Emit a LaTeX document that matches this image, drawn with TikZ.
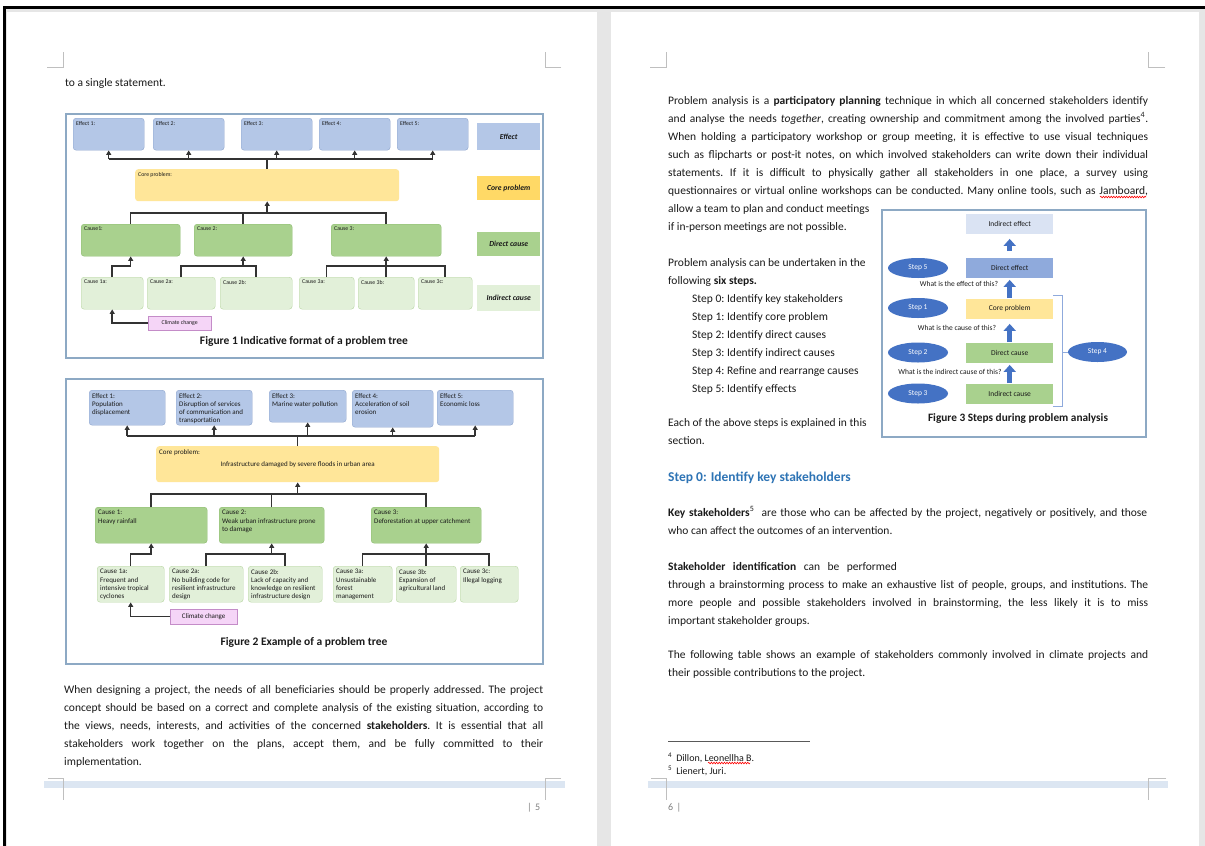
\documentclass[tikz,border=0pt]{standalone}
\usepackage{fontspec}
\setmainfont{Carlito}
\usetikzlibrary{arrows.meta,shapes.geometric,decorations.pathmorphing}
\definecolor{efffill}{HTML}{B4C7E7}
\definecolor{effline}{HTML}{8FA6CF}
\definecolor{corefill}{HTML}{FFE699}
\definecolor{dirfill}{HTML}{A9D18E}
\definecolor{dirline}{HTML}{8DBB70}
\definecolor{indfill}{HTML}{E2F0D9}
\definecolor{indline}{HTML}{B8D6A3}
\definecolor{ccfill}{HTML}{F5D5F7}
\definecolor{ccline}{HTML}{C48CC8}
\definecolor{legcore}{HTML}{FFD966}
\definecolor{frameline}{HTML}{8DA9C4}
\definecolor{stepblue}{HTML}{4472C4}
\definecolor{ieff}{HTML}{DAE3F3}
\definecolor{deff}{HTML}{8FAADC}
\definecolor{headblue}{HTML}{2E74B5}
\definecolor{cropgray}{HTML}{BFBFBF}
\definecolor{footband}{HTML}{DCE6F2}
\definecolor{gapgray}{HTML}{E6E6E6}
\definecolor{bodytext}{HTML}{1A1A1A}
\definecolor{linedark}{HTML}{333333}
% font sizes (1pt = 1px of the screenshot)
\newcommand{\bodyfont}{\fontsize{11.5}{18}\selectfont}
\newcommand{\figa}{\fontsize{5.8}{7}\selectfont}
\newcommand{\figb}{\fontsize{7}{8.3}\selectfont}
\newcommand{\legfont}{\fontsize{7.7}{9}\selectfont\bfseries\itshape}
\newcommand{\capfont}{\fontsize{11.5}{14}\selectfont\bfseries}
\newcommand{\stepfont}{\fontsize{7.5}{9}\selectfont}
\newcommand{\parblock}[2]{\vtop{\hsize=#1\parindent=0pt\tolerance=9999\hyphenpenalty=10000\frenchspacing\bodyfont #2}}
\begin{document}
\begin{tikzpicture}[x=1pt,y=-1pt,
    tline/.style={draw=linedark,line width=1.5},
    tarrow/.style={tline,-{Triangle[width=5pt,length=4.5pt]}},
    rbox/.style={rounded corners=3,anchor=north west,inner sep=0},
    effbox/.style={rbox,draw=effline,fill=efffill},
    corebox/.style={rbox,fill=corefill},
    dirbox/.style={rbox,draw=dirline,fill=dirfill},
    indbox/.style={rbox,draw=indline,fill=indfill},
    climbox/.style={anchor=north west,inner sep=0,draw=ccline,fill=ccfill,text=bodytext},
    legbox/.style={anchor=north west,inner sep=0,minimum width=63,font=\legfont,text=bodytext},
    tla/.style={anchor=north west,align=left,inner sep=3,font=\figa,text=bodytext},
    tlb/.style={tla,font=\figb},
    figframe/.style={draw=frameline,line width=1.2},
    figcap/.style={font=\capfont,text=bodytext},
    bodytxt/.style={anchor=base west,inner sep=0,text=bodytext},
    fbox/.style={anchor=north west,minimum width=87,minimum height=19.5,inner sep=0,font=\stepfont,text=bodytext},
    stepell/.style={ellipse,fill=stepblue,text=white,minimum width=60,minimum height=20,inner sep=0,font=\stepfont},
    barrow/.style={draw=stepblue,line width=5,-{Triangle[width=12pt,length=7pt]}},
    brk/.style={draw=deff,line width=1},
    crop/.style={draw=cropgray,line width=0.8},
    squig/.style={draw=red,line width=0.6,decorate,decoration={snake,amplitude=0.8,segment length=2.6}},
    pnum/.style={anchor=base west,inner sep=0,text=gray,font=\fontsize{10}{12}\selectfont}]
    \useasboundingbox(0,0)rectangle(1205,846);
    % window and pages
    \fill[white](0,0)rectangle(1205,846);
    \fill[gapgray](5,8)rectangle(1205,846);
    \fill[white](7,12)rectangle(597,846);
    \fill[white](611,12)rectangle(1199,846);
    \fill[black](3,6)rectangle(1205,8.5);
    \fill[black](3,6)rectangle(5.5,846);
    % crop marks and footer bands
    \draw[crop](47,67)-|(63,52);
    \draw[crop](561,67)-|(545,52);
    \draw[crop](650,67)-|(666,52);
    \draw[crop](1165,67)-|(1148,52);
    \fill[footband](44,781)rectangle(565,788);
    \fill[footband](648,781)rectangle(1168,788);
    \draw[crop](48,778)-|(63,800);
    \draw[crop](561,778)-|(545,800);
    \draw[crop](651,778)-|(666,800);
    \draw[crop](1166,778)-|(1148,800);
    \node[pnum](pn5)at(527,810){|\,\,5};
    \node[pnum](pn6)at(668,810){6\,\,|};
    % left page text
    \node[bodytxt,font=\bodyfont](t0)at(65,86){to a single statement.};
    \node[bodytxt](t1)at(64,693){\parblock{479pt}{When designing a project, the needs of all beneficiaries should be properly addressed. The project\linebreak
        concept should be based on a correct and complete analysis of the existing situation, according to\linebreak
        the views, needs, interests, and activities of the concerned \textbf{stakeholders}. It is essential that all\linebreak
        stakeholders work together on the plans, accept them, and be fully committed to their\linebreak
        implementation.}};
    % figure 1
    \draw[figframe](66,114)rectangle(543,358);
    \node[effbox,minimum width=71,minimum height=32,label={[tla]north west:{Effect 1:}}](e1)at(73,118){};
    \node[effbox,minimum width=71,minimum height=32,label={[tla]north west:{Effect 2:}}](e2)at(153,118){};
    \node[effbox,minimum width=71,minimum height=32,label={[tla]north west:{Effect 3:}}](e3)at(241,118){};
    \node[effbox,minimum width=71,minimum height=32,label={[tla]north west:{Effect 4:}}](e4)at(319,118){};
    \node[effbox,minimum width=71,minimum height=32,label={[tla]north west:{Effect 5:}}](e5)at(397,118){};
    \node[corebox,minimum width=264,minimum height=32,label={[tla]north west:{Core problem:}}](cp)at(135,169){};
    \node[dirbox,minimum width=99,minimum height=32,label={[tla]north west:{Cause1:}}](c1)at(81,224){};
    \node[dirbox,minimum width=98,minimum height=32,label={[tla]north west:{Cause 2:}}](c2)at(194,224){};
    \node[dirbox,minimum width=110,minimum height=32,label={[tla]north west:{Cause 3:}}](c3)at(331,224){};
    \node[indbox,minimum width=62,minimum height=32,label={[tla]north west:{Cause 1a:}}](c1a)at(81,277){};
    \node[indbox,minimum width=68,minimum height=32,label={[tla]north west:{Cause 2a:}}](c2a)at(147,277){};
    \node[indbox,minimum width=72,minimum height=32,label={[tla]north west:{Cause 2b:}}](c2b)at(220,277){};
    \node[indbox,minimum width=55,minimum height=32,label={[tla]north west:{Cause 3a:}}](c3a)at(299,277){};
    \node[indbox,minimum width=56,minimum height=32,label={[tla]north west:{Cause 3b:}}](c3b)at(358,277){};
    \node[indbox,minimum width=54,minimum height=32,label={[tla]north west:{Cause 3c:}}](c3c)at(418,277){};
    \node[climbox,minimum width=63,minimum height=14,font=\figa](cc)at(148,316){Climate change};
    \node[legbox,fill=efffill,minimum height=27](leff)at(477,123){Effect};
    \node[legbox,fill=legcore,minimum height=24](lcore)at(477,176){Core problem};
    \node[legbox,fill=dirfill,minimum height=24](ldir)at(477,232){Direct cause};
    \node[legbox,fill=indfill,minimum height=26](lind)at(477,285){Indirect cause};
    \node[figcap](cap1)at(304,341){Figure 1 Indicative format of a problem tree};
    \coordinate(eb)at(0,159);
    \coordinate(cb)at(0,213);
    \coordinate(ab)at(0,266);
    \draw[tline](e1.south|-eb)--(e5.south|-eb);
    \foreach \n in {e1,e2,e3,e4,e5}\draw[tarrow](\n.south|-eb)--(\n.south);
    \draw[tline](cp.north)--(cp.north|-eb);
    \draw[tline](c1.north)|-(c3.north|-cb)--(c3.north);
    \draw[tline](c2.north)--(c2.north|-cb);
    \draw[tarrow](cp.south|-cb)--(cp.south);
    \draw[tarrow](c1a.north)|-(c1.south|-ab)--(c1.south);
    \draw[tline](c2a.north)|-(c2b.north|-ab)--(c2b.north);
    \draw[tarrow](c2.south|-ab)--(c2.south);
    \draw[tline](c3a.north)|-(c3c.north|-ab)--(c3c.north);
    \draw[tarrow](c3b.north)--(c3.south);
    \draw[tarrow](cc.west)-|(c1a.south);
    % figure 2
    \draw[figframe](66,379)rectangle(543,664);
    \node[effbox,minimum width=76,minimum height=35,label={[tlb]north west:{Effect 1:\\Population\\displacement}}](E1)at(89,390){};
    \node[effbox,minimum width=76,minimum height=35,label={[tlb]north west:{Effect 2:\\Disruption of services\\of communication and\\transportation}}](E2)at(176,390){};
    \node[effbox,minimum width=77,minimum height=32,label={[tlb]north west:{Effect 3:\\Marine water pollution}}](E3)at(269,390){};
    \node[effbox,minimum width=81,minimum height=37,label={[tlb]north west:{Effect 4:\\Acceleration of soil\\erosion}}](E4)at(352,390){};
    \node[effbox,minimum width=76,minimum height=35,label={[tlb]north west:{Effect 5:\\Economic loss}}](E5)at(437,390){};
    \node[corebox,minimum width=283,minimum height=36,font=\figb,text=bodytext,label={[tlb]north west:{Core problem:}}](CP)at(156,446){Infrastructure damaged by severe floods in urban area};
    \node[dirbox,minimum width=112,minimum height=36,label={[tlb]north west:{Cause 1:\\Heavy rainfall}}](C1)at(95,507){};
    \node[dirbox,minimum width=105,minimum height=36,label={[tlb]north west:{Cause 2:\\Weak urban infrastructure prone\\to damage}}](C2)at(219,507){};
    \node[dirbox,minimum width=110,minimum height=36,label={[tlb]north west:{Cause 3:\\Deforestation at upper catchment}}](C3)at(371,507){};
    \node[indbox,minimum width=67,minimum height=36,label={[tlb]north west:{Cause 1a:\\Frequent and\\intensive tropical\\cyclones}}](C1a)at(97,566){};
    \node[indbox,minimum width=74,minimum height=36,label={[tlb]north west:{Cause 2a:\\No building code for\\resilient infrastructure\\design}}](C2a)at(169,566){};
    \node[indbox,minimum width=74,minimum height=36,label={[tlb]north west:{Cause 2b:\\Lack of capacity and\\knowledge on resilient\\infrastructure design}}](C2b)at(248,566){};
    \node[indbox,minimum width=59,minimum height=36,label={[tlb]north west:{Cause 3a:\\Unsustainable\\forest\\management}}](C3a)at(333,566){};
    \node[indbox,minimum width=60,minimum height=36,label={[tlb]north west:{Cause 3b:\\Expansion of\\agricultural land}}](C3b)at(396,566){};
    \node[indbox,minimum width=58,minimum height=36,label={[tlb]north west:{Cause 3c:\\Illegal logging}}](C3c)at(460,566){};
    \node[climbox,minimum width=67,minimum height=15,font=\figb](CC)at(170,609){Climate change};
    \node[figcap](cap2)at(304,642){Figure 2 Example of a problem tree};
    \coordinate(EB)at(0,436);
    \coordinate(CB)at(0,494);
    \coordinate(AB)at(0,554);
    \draw[tline](E1.south|-EB)--(E5.south|-EB);
    \foreach \n in {E1,E2,E3,E4,E5}\draw[tarrow](\n.south|-EB)--(\n.south);
    \draw[tline](CP.north)--(CP.north|-EB);
    \draw[tline](C1.north)|-(C3.north|-CB)--(C3.north);
    \draw[tline](C2.north)--(C2.north|-CB);
    \draw[tarrow](CP.south|-CB)--(CP.south);
    \draw[tarrow](C1a.north)|-(C1.south|-AB)--(C1.south);
    \draw[tline](C2a.north)|-(C2b.north|-AB)--(C2b.north);
    \draw[tarrow](C2.south|-AB)--(C2.south);
    \draw[tline](C3a.north)|-(C3c.north|-AB)--(C3c.north);
    \draw[tarrow](C3b.north)--(C3.south);
    \draw[tarrow](CC.west)-|(C1a.south);
    % right page text
    \node[bodytxt](p1)at(668,104){\parblock{480pt}{Problem analysis is a \textbf{participatory planning} technique in which all concerned stakeholders identify\linebreak
        and analyse the needs \textit{together}, creating ownership and commitment among the involved parties\textsuperscript{4}.\linebreak
        When holding a participatory workshop or group meeting, it is effective to use visual techniques\linebreak
        such as flipcharts or post-it notes, on which involved stakeholders can write down their individual\linebreak
        statements. If it is difficult to physically gather all stakeholders in one place, a survey using\linebreak
        questionnaires or virtual online workshops can be conducted. Many online tools, such as Jamboard,\linebreak
        allow a team to plan and conduct meetings\\
        if in-person meetings are not possible.}};
    \draw[squig](1100,197)--(1146,197);
    \node[bodytxt](p2)at(668,266){\parblock{215pt}{Problem analysis can be undertaken in the\\
        following \textbf{six steps.}\\
        \hspace*{24pt}Step 0: Identify key stakeholders\\
        \hspace*{24pt}Step 1: Identify core problem\\
        \hspace*{24pt}Step 2: Identify direct causes\\
        \hspace*{24pt}Step 3: Identify indirect causes\\
        \hspace*{24pt}Step 4: Refine and rearrange causes\\
        \hspace*{24pt}Step 5: Identify effects}};
    \node[bodytxt](p3)at(668,426){\parblock{215pt}{Each of the above steps is explained in this\\ section.}};
    \node[bodytxt,text=headblue,font=\fontsize{13.5}{16}\selectfont\bfseries](h0)at(668,481){Step 0: Identify key stakeholders};
    \node[bodytxt](p4)at(668,516){\parblock{479pt}{\textbf{Key stakeholders}\textsuperscript{5}\ \ are those who can be affected by the project, negatively or positively, and those\linebreak
        who can affect the outcomes of an intervention.}};
    \node[bodytxt](p5)at(668,570){\parblock{480pt}{\textbf{Stakeholder}\hspace{7.5pt}\textbf{identification}\hspace{7.5pt}can\hspace{7.5pt}be\hspace{7.5pt}performed\\
        through a brainstorming process to make an exhaustive list of people, groups, and institutions. The\linebreak
        more people and possible stakeholders involved in brainstorming, the less likely it is to miss\linebreak
        important stakeholder groups.}};
    \node[bodytxt](p6)at(668,658){\parblock{480pt}{The following table shows an example of stakeholders commonly involved in climate projects and\linebreak
        their possible contributions to the project.}};
    \draw[draw=black!65,line width=0.8](668,741)--(810,741);
    \node[bodytxt,font=\fontsize{10}{13}\selectfont](fn4)at(668,761){\textsuperscript{4}\hspace{4pt}Dillon, Leonellha B.};
    \draw[squig](708,763)--(750,763);
    \node[bodytxt,font=\fontsize{10}{13}\selectfont](fn5)at(668,774){\textsuperscript{5}\hspace{4pt}Lienert, Juri.};
    % figure 3
    \draw[figframe](882,210)rectangle(1146,437);
    \node[fbox,fill=ieff](ie)at(966,214){Indirect effect};
    \node[fbox,fill=deff](de)at(966,258){Direct effect};
    \node[fbox,fill=corefill](cpr)at(966,299){Core problem};
    \node[fbox,fill=dirfill](dc)at(966,343){Direct cause};
    \node[fbox,fill=dirfill](ic)at(966,384){Indirect cause};
    \node[stepell](s5)at(918,268){Step 5};
    \node[stepell](s1)at(918,308){Step 1};
    \node[stepell](s2)at(918,352.5){Step 2};
    \node[stepell](s3)at(918,393.5){Step 3};
    \node[stepell,minimum width=59](s4)at(1097.5,352){Step 4};
    \node[font=\stepfont,text=bodytext,inner sep=0](q1)at(959,284){What is the effect of this?};
    \node[font=\stepfont,text=bodytext,inner sep=0](q2)at(957,328){What is the cause of this?};
    \node[font=\stepfont,text=bodytext,inner sep=0](q3)at(950,372){What is the indirect cause of this?};
    \draw[barrow,shorten <=7,shorten >=5](de.north)--(ie.south);
    \draw[barrow,shorten <=1,shorten >=2](cpr.north)--(de.south);
    \draw[barrow,shorten <=1,shorten >=5](dc.north)--(cpr.south);
    \draw[barrow,shorten <=1,shorten >=2](ic.north)--(dc.south);
    \coordinate(bt)at(1062,295);
    \coordinate(bb)at(1062,406);
    \draw[brk](bt-|cpr.east)--(bt)--(bb)--(bb-|ic.east);
    \draw[brk](bt|-s4)--(s4.west);
    \node[figcap,font=\fontsize{11.3}{14}\selectfont\bfseries](cap3)at(1018,418){Figure 3 Steps during problem analysis};
\end{tikzpicture}
\end{document}
